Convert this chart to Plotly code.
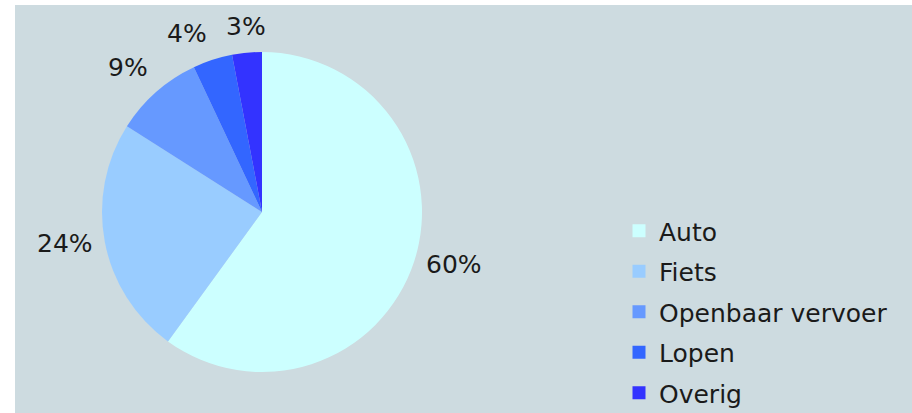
import math
import plotly.graph_objects as go

# Modal split (share of trips)
modes = ["Auto", "Fiets", "Openbaar vervoer", "Lopen", "Overig"]
shares = [60, 24, 9, 4, 3]
colors = ["#ccffff", "#99ccff", "#6699ff", "#3366ff", "#3333ff"]

W, H = 912, 413
BG = "#cddbe0"
FONT = dict(family="DejaVu Sans, Verdana, sans-serif", size=25, color="#1a1a1a")

fig = go.Figure()

# Pie centre (262, 212) px, radius 160 px
cx, cy, r = 262, 212, 160
fig.add_trace(go.Pie(
    labels=modes,
    values=shares,
    marker=dict(colors=colors, line=dict(width=0)),
    sort=False,
    direction="clockwise",
    rotation=0,
    textinfo="none",
    showlegend=False,
    hoverinfo="label+percent",
    domain=dict(x=[(cx - r) / W, (cx + r) / W],
                y=[1 - (cy + r) / H, 1 - (cy - r) / H]),
))

# Percentage labels outside each slice, anchored at the slice's mid angle
total = sum(shares)
label_r = r + 10
cum = 0
for v in shares:
    mid = 2 * math.pi * (cum + v / 2) / total   # clockwise from 12 o'clock
    cum += v
    s, c = math.sin(mid), math.cos(mid)
    px = cx + label_r * s
    py = cy - label_r * c
    xa = "left" if s > 0.2 else ("right" if s < -0.2 else "center")
    ya = "bottom" if c > 0.5 else ("top" if c < -0.5 else "middle")
    fig.add_annotation(
        x=px / W, y=1 - py / H, xref="paper", yref="paper",
        text=f"{v}%", showarrow=False, font=FONT,
        xanchor=xa, yanchor=ya,
    )

# Legend entries: one square marker per mode, each in its own group so the
# group gap sets the row spacing
for name, col in zip(modes, colors):
    fig.add_trace(go.Scatter(
        x=[None], y=[None], mode="markers", name=name,
        legendgroup=name,
        marker=dict(symbol="square", size=13, color=col, line=dict(width=0)),
        hoverinfo="skip",
    ))

fig.update_layout(
    width=W, height=H,
    margin=dict(l=0, r=0, t=0, b=0, autoexpand=False),
    paper_bgcolor="white",
    plot_bgcolor="rgba(0,0,0,0)",
    xaxis=dict(visible=False),
    yaxis=dict(visible=False),
    legend=dict(
        x=619 / W, xanchor="left",
        y=1 - 208 / H, yanchor="top",
        font=FONT,
        bgcolor="rgba(0,0,0,0)",
        traceorder="grouped",
        tracegroupgap=5,
        itemclick=False, itemdoubleclick=False,
    ),
    shapes=[dict(
        type="rect", xref="paper", yref="paper",
        x0=15 / W, x1=1, y0=0, y1=1 - 5 / H,
        fillcolor=BG, line=dict(width=0), layer="below",
    )],
)

fig.write_html("out.html")
